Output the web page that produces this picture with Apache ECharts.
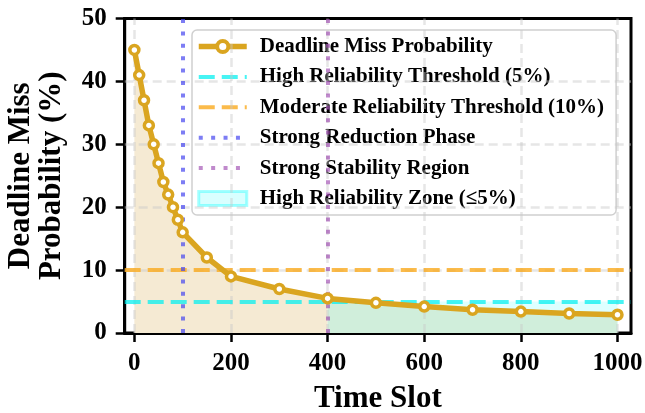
<!DOCTYPE html>
<html>
<head>
<meta charset="utf-8">
<script src="https://cdn.jsdelivr.net/npm/echarts@6/dist/echarts.min.js"></script>
<style>
  html, body { margin: 0; padding: 0; background: #fff; }
  #chart { width: 645px; height: 413px; }
</style>
</head>
<body>
<div id="chart"></div>
<script>
    // values
    var timeSlots = [0, 10, 20, 30, 40, 50, 60, 70, 80, 90, 100, 150, 200, 300, 400, 500, 600, 700, 800, 900, 1000];
    var missProb = [45, 41, 37, 33, 30, 27, 24, 22, 20, 18, 16, 12, 9, 7, 5.5, 4.8, 4.2, 3.7, 3.4, 3.1, 2.9];
    var xTicks = [0, 200, 400, 600, 800, 1000];
    var yTicks = [0, 10, 20, 30, 40, 50];
    var highThreshold = 5;
    var moderateThreshold = 10;
    var reductionSlot = 100;
    var stabilitySlot = 400;

    var names = {
        main: 'Deadline Miss Probability',
        high: 'High Reliability Threshold (5%)',
        moderate: 'Moderate Reliability Threshold (10%)',
        reduction: 'Strong Reduction Phase',
        stability: 'Strong Stability Region',
        zone: 'High Reliability Zone (\u22645%)'
    };

    var font = 'Liberation Serif, Times New Roman, serif';
    var gold = '#DAA520';
    var cyan = 'rgba(0,240,240,0.72)';
    var orange = 'rgba(250,170,30,0.8)';
    var blue = 'rgba(70,70,240,0.7)';
    var purple = 'rgba(150,60,170,0.6)';
    var dashed = [16, 7];
    var dotted = [4, 8.4];

    var points = timeSlots.map(function (t, i) { return [t, missProb[i]]; });
    var earlyPoints = points.filter(function (p) { return p[0] <= stabilitySlot; });
    var latePoints = points.filter(function (p) { return p[0] >= stabilitySlot; });
    var lastSlot = timeSlots[timeSlots.length - 1];

    var gridMarks = xTicks.map(function (v) { return { xAxis: v }; })
        .concat(yTicks.filter(function (v) { return v > 0 && v < 50; }).map(function (v) { return { yAxis: v }; }));

    function refLine(name, mark, color, type, z) {
        return {
            name: name,
            type: 'line',
            data: [],
            z: z,
            symbol: 'none',
            lineStyle: { color: color, width: 4, type: type },
            itemStyle: { color: color },
            markLine: {
                silent: true,
                symbol: 'none',
                label: { show: false },
                lineStyle: { color: color, width: 4, type: type },
                data: [mark]
            }
        };
    }

    function legendLine(name, color, type) {
        return {
            name: name,
            itemStyle: { opacity: 0 },
            lineStyle: { color: color, width: 4, type: type }
        };
    }

    var option = {
        animation: false,
        backgroundColor: '#fff',
        grid: {
            left: 124.7, right: 14, top: 18.5, bottom: 80,
            containLabel: false,
            outerBoundsMode: 'none',
            show: true, borderColor: '#000', borderWidth: 3, backgroundColor: 'transparent'
        },
        legend: {
            orient: 'vertical',
            left: 192,
            top: 30,
            padding: [6, 12, 6, 4],
            itemWidth: 48,
            itemHeight: 14,
            itemGap: 9.4,
            backgroundColor: 'rgba(255,255,255,0.85)',
            borderColor: '#d0d0d0',
            borderWidth: 1.5,
            borderRadius: 5,
            textStyle: { fontFamily: font, fontWeight: 'bold', fontSize: 21, color: '#000', padding: [0, 0, 0, 8] },
            data: [
                { name: names.main, lineStyle: { color: gold, width: 5.5 }, itemStyle: { color: '#fff', borderColor: gold, borderWidth: 4 } },
                legendLine(names.high, cyan, dashed),
                legendLine(names.moderate, orange, dashed),
                legendLine(names.reduction, blue, dotted),
                legendLine(names.stability, purple, dotted),
                { name: names.zone, icon: 'rect', itemStyle: { color: 'rgba(0,255,255,0.15)', borderColor: 'rgba(0,255,255,0.35)', borderWidth: 3 } }
            ]
        },
        xAxis: {
            type: 'value',
            min: -20,
            max: 1028,
            name: 'Time Slot',
            nameLocation: 'middle',
            nameGap: 50,
            nameTextStyle: { fontFamily: font, fontWeight: 'bold', fontSize: 31, color: '#000' },
            axisLine: { onZero: false, lineStyle: { color: '#000', width: 3 } },
            axisTick: { show: true, customValues: xTicks, length: 9, lineStyle: { color: '#000', width: 2.5 } },
            axisLabel: {
                customValues: xTicks, margin: 18,
                fontFamily: font, fontWeight: 'bold', fontSize: 25, color: '#000',
                formatter: function (v) { return String(v); }
            },
            splitLine: { show: false }
        },
        yAxis: {
            type: 'value',
            min: 0,
            max: 50,
            interval: 10,
            name: 'Deadline Miss\nProbability (%)',
            nameLocation: 'middle',
            nameRotate: 90,
            nameGap: 57,
            nameTextStyle: { fontFamily: font, fontWeight: 'bold', fontSize: 31, lineHeight: 31, color: '#000' },
            axisLine: { show: true, onZero: false, lineStyle: { color: '#000', width: 3 } },
            axisTick: { show: true, length: 9, lineStyle: { color: '#000', width: 2.5 } },
            axisLabel: { margin: 18, fontFamily: font, fontWeight: 'bold', fontSize: 25, color: '#000' },
            splitLine: { show: false }
        },
        series: [
            {
                // band below the high reliability threshold in the stable part
                name: names.zone,
                type: 'line',
                data: [],
                z: 1,
                symbol: 'none',
                markArea: {
                    silent: true,
                    itemStyle: { color: 'rgba(0,255,255,0.13)' },
                    data: [[{ xAxis: stabilitySlot, yAxis: 0 }, { xAxis: lastSlot, yAxis: highThreshold }]]
                }
            },
            {
                name: 'early fill',
                type: 'line',
                data: earlyPoints,
                z: 1,
                symbol: 'none',
                lineStyle: { width: 0 },
                areaStyle: { color: '#f5ead3', opacity: 1 }
            },
            {
                name: 'late fill',
                type: 'line',
                data: latePoints,
                z: 1,
                symbol: 'none',
                lineStyle: { width: 0 },
                areaStyle: { color: '#d0eedb', opacity: 1 }
            },
            {
                name: 'grid',
                type: 'line',
                data: [],
                z: 2,
                symbol: 'none',
                markLine: {
                    silent: true,
                    symbol: 'none',
                    label: { show: false },
                    lineStyle: { color: 'rgba(200,200,200,0.45)', width: 2.5, type: [9, 5] },
                    data: gridMarks
                }
            },
            refLine(names.high, { yAxis: highThreshold }, cyan, dashed, 3),
            refLine(names.moderate, { yAxis: moderateThreshold }, orange, dashed, 3),
            refLine(names.reduction, { xAxis: reductionSlot }, blue, dotted, 3),
            {
                name: names.main,
                type: 'line',
                data: points,
                z: 5,
                symbol: 'circle',
                symbolSize: 9,
                lineStyle: { color: gold, width: 5.5 },
                itemStyle: { color: '#fff', borderColor: gold, borderWidth: 3.5 }
            },
            refLine(names.stability, { xAxis: stabilitySlot }, purple, dotted, 6)
        ]
    };

    var chart = echarts.init(document.getElementById('chart'));
    chart.setOption(option);
</script>
</body>
</html>
